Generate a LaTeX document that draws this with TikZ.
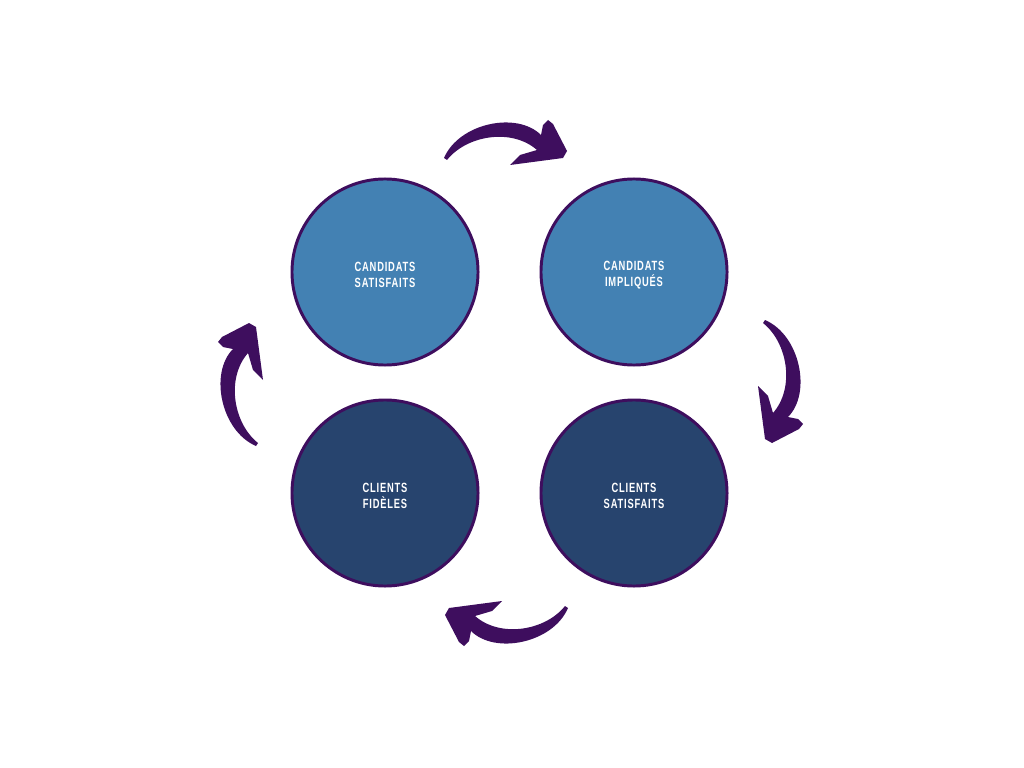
\documentclass[tikz,border=0pt]{standalone}
\usepackage{fontspec}
\usepackage{tikz}
\newfontfamily\labelfont{Liberation Sans}[FakeStretch=0.7,LetterSpace=6]
\definecolor{plum}{HTML}{3E0E5E}
\definecolor{lightblue}{HTML}{4381B3}
\definecolor{darkblue}{HTML}{27446E}

\begin{document}
\begin{tikzpicture}[x=0.025cm,y=-0.025cm,
   bubble/.style={circle,draw=plum,line width=2.1pt,minimum size=4.65cm,
      text=white,align=center,text height=0.78cm,
      font=\labelfont\bfseries\fontsize{9.5}{11.4}\selectfont},
   swoosh/.pic={
      \fill[plum] (-123,5) .. controls (-108,-30) and (-50,-42) .. (-26,-18)
         -- (-24,-28) -- (-19,-33) -- (-14,-29) -- (0,-2) -- (-4,5) -- (-57,12)
         -- (-47,2) -- (-30,-3) .. controls (-55,-25) and (-100,-18) .. (-120,7)
         -- cycle;
   }]
   \useasboundingbox[fill=white] (0,0) rectangle (1024,768);
   \node[bubble,fill=lightblue] (candsat) at (385,272) {CANDIDATS\\SATISFAITS};
   \node[bubble,fill=lightblue] (candimp) at (634,272) {CANDIDATS\\IMPLIQUÉS};
   \node[bubble,fill=darkblue] (clifid) at (385,493) {CLIENTS\\FIDÈLES};
   \node[bubble,fill=darkblue] (clisat) at (634,493) {CLIENTS\\SATISFAITS};
   % arrows round the cycle
   \pic at (567,153) {swoosh};
   \pic[rotate=-90] at (770,443) {swoosh};
   \pic[rotate=180] at (445,613) {swoosh};
   \pic[rotate=90] at (251,323) {swoosh};
\end{tikzpicture}
\end{document}
